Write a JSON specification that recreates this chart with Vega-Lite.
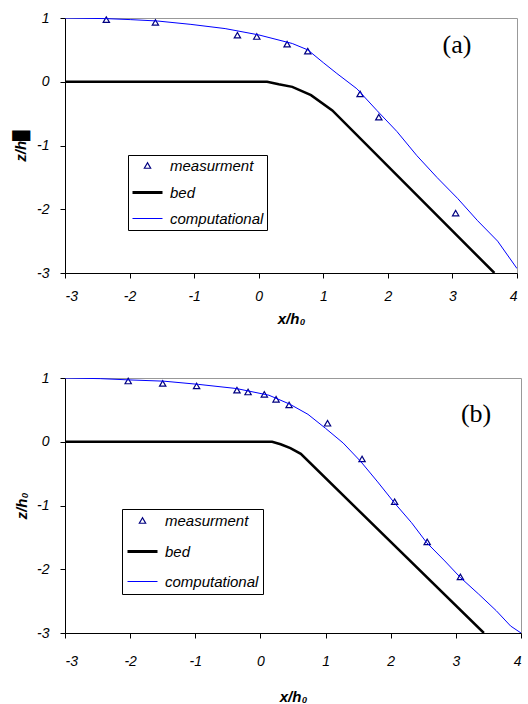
{
  "$schema": "https://vega.github.io/schema/vega-lite/v6.json",
  "background": "white",
  "padding": {"left": 12, "top": 10, "right": 0, "bottom": 0},
  "spacing": 43,
  "resolve": {"scale": {"color": "independent", "shape": "independent", "size": "independent", "strokeWidth": "independent"}, "legend": {"color": "independent", "shape": "independent", "size": "independent", "strokeWidth": "independent"}},
  "datasets": {
    "lines_a": [
      {"series": "computational", "x": -3, "y": 1},
      {"series": "computational", "x": -2.36, "y": 0.99},
      {"series": "computational", "x": -1.99, "y": 0.975},
      {"series": "computational", "x": -1.57, "y": 0.953},
      {"series": "computational", "x": -1.05, "y": 0.9},
      {"series": "computational", "x": -0.52, "y": 0.834},
      {"series": "computational", "x": 0, "y": 0.735},
      {"series": "computational", "x": 0.52, "y": 0.6},
      {"series": "computational", "x": 0.76, "y": 0.5},
      {"series": "computational", "x": 1.0, "y": 0.3},
      {"series": "computational", "x": 1.21, "y": 0.13},
      {"series": "computational", "x": 1.52, "y": -0.11},
      {"series": "computational", "x": 1.83, "y": -0.45},
      {"series": "computational", "x": 2.14, "y": -0.78},
      {"series": "computational", "x": 2.45, "y": -1.16},
      {"series": "computational", "x": 2.76, "y": -1.5},
      {"series": "computational", "x": 3.08, "y": -1.83},
      {"series": "computational", "x": 3.39, "y": -2.18},
      {"series": "computational", "x": 3.7, "y": -2.5},
      {"series": "computational", "x": 4.0, "y": -2.93},
      {"series": "bed", "x": -3, "y": 0},
      {"series": "bed", "x": 0.13, "y": 0},
      {"series": "bed", "x": 0.31, "y": -0.04},
      {"series": "bed", "x": 0.52, "y": -0.08},
      {"series": "bed", "x": 0.81, "y": -0.21},
      {"series": "bed", "x": 1.14, "y": -0.45},
      {"series": "bed", "x": 3.65, "y": -3}
    ],
    "meas_a": [
      {"series": "measurment", "x": -2.36, "y": 0.974},
      {"series": "measurment", "x": -1.6, "y": 0.93},
      {"series": "measurment", "x": -0.33, "y": 0.73},
      {"series": "measurment", "x": -0.03, "y": 0.71},
      {"series": "measurment", "x": 0.44, "y": 0.59},
      {"series": "measurment", "x": 0.76, "y": 0.48},
      {"series": "measurment", "x": 1.57, "y": -0.19},
      {"series": "measurment", "x": 1.86, "y": -0.555},
      {"series": "measurment", "x": 3.05, "y": -2.06}
    ],
    "lines_b": [
      {"series": "computational", "x": -3, "y": 1},
      {"series": "computational", "x": -2.46, "y": 0.99},
      {"series": "computational", "x": -2.01, "y": 0.97},
      {"series": "computational", "x": -1.48, "y": 0.95},
      {"series": "computational", "x": -0.95, "y": 0.9},
      {"series": "computational", "x": -0.37, "y": 0.835},
      {"series": "computational", "x": 0.13, "y": 0.73},
      {"series": "computational", "x": 0.45, "y": 0.59},
      {"series": "computational", "x": 0.73, "y": 0.43},
      {"series": "computational", "x": 1.0, "y": 0.21},
      {"series": "computational", "x": 1.27, "y": -0.02},
      {"series": "computational", "x": 1.54, "y": -0.31},
      {"series": "computational", "x": 1.8, "y": -0.63},
      {"series": "computational", "x": 2.05, "y": -0.95},
      {"series": "computational", "x": 2.32, "y": -1.27},
      {"series": "computational", "x": 2.55, "y": -1.58},
      {"series": "computational", "x": 2.83, "y": -1.87},
      {"series": "computational", "x": 3.07, "y": -2.13},
      {"series": "computational", "x": 3.35, "y": -2.39},
      {"series": "computational", "x": 3.62, "y": -2.65},
      {"series": "computational", "x": 3.84, "y": -2.89},
      {"series": "computational", "x": 4.0, "y": -3},
      {"series": "bed", "x": -3, "y": 0},
      {"series": "bed", "x": 0.18, "y": 0},
      {"series": "bed", "x": 0.31, "y": -0.04},
      {"series": "bed", "x": 0.46, "y": -0.1},
      {"series": "bed", "x": 0.62, "y": -0.19},
      {"series": "bed", "x": 3.43, "y": -3}
    ],
    "meas_b": [
      {"series": "measurment", "x": -2.03, "y": 0.953},
      {"series": "measurment", "x": -1.5, "y": 0.916},
      {"series": "measurment", "x": -0.98, "y": 0.875},
      {"series": "measurment", "x": -0.36, "y": 0.81},
      {"series": "measurment", "x": -0.19, "y": 0.78},
      {"series": "measurment", "x": 0.06, "y": 0.744},
      {"series": "measurment", "x": 0.24, "y": 0.666},
      {"series": "measurment", "x": 0.44, "y": 0.577},
      {"series": "measurment", "x": 1.03, "y": 0.29},
      {"series": "measurment", "x": 1.56, "y": -0.27},
      {"series": "measurment", "x": 2.06, "y": -0.94},
      {"series": "measurment", "x": 2.56, "y": -1.57},
      {"series": "measurment", "x": 3.07, "y": -2.12}
    ]
  },
  "vconcat": [
    {
      "resolve": {"scale": {"color": "independent", "shape": "independent", "size": "independent", "strokeWidth": "independent"}, "legend": {"color": "independent", "shape": "independent", "size": "independent", "strokeWidth": "independent"}},
      "hconcat": [
        {
          "width": 452,
          "height": 255,
          "layer": [
            {
              "data": {"name": "meas_a"},
              "mark": {"type": "point", "filled": false, "opacity": 1},
              "encoding": {
                "x": {"field": "x", "type": "quantitative", "scale": {"domain": [-3, 4], "nice": false},
                      "axis": {"values": [-3, -2, -1, 0, 1, 2, 3, 4], "title": "x/h₀", "labelPadding": 11, "titlePadding": 8, "labelExpr": "datum.value < 0 ? '-' + abs(datum.value) : '' + datum.value"}},
                "y": {"field": "y", "type": "quantitative", "scale": {"domain": [-3, 1], "nice": false},
                      "axis": {"values": [-3, -2, -1, 0, 1], "title": "z/h█", "labelPadding": 11, "titlePadding": 8.5, "labelExpr": "datum.value < 0 ? '-' + abs(datum.value) : '' + datum.value"}},
                "color": {"field": "series", "type": "nominal",
                  "scale": {"domain": ["measurment", "bed", "computational"], "range": ["#000080", "#000000", "#0000ff"]},
                  "legend": {"title": null, "orient": "none", "legendX": 63, "legendY": 137, "strokeColor": "black", "fillColor": "white", "padding": 3, "labelFont": "Liberation Sans", "labelFontStyle": "italic", "labelFontSize": 15, "labelColor": "black", "labelOffset": 6, "rowPadding": 2}},
                "shape": {"field": "series", "type": "nominal",
                  "scale": {"domain": ["measurment", "bed", "computational"], "range": ["triangle-up", "stroke", "stroke"]},
                  "legend": {"title": null, "orient": "none", "legendX": 63, "legendY": 137, "strokeColor": "black", "fillColor": "white", "padding": 3, "labelFont": "Liberation Sans", "labelFontStyle": "italic", "labelFontSize": 15, "labelColor": "black", "labelOffset": 6, "rowPadding": 2}},
                "size": {"field": "series", "type": "nominal",
                  "scale": {"type": "ordinal", "domain": ["measurment", "bed", "computational"], "range": [40, 900, 900]},
                  "legend": {"title": null, "orient": "none", "legendX": 63, "legendY": 137, "strokeColor": "black", "fillColor": "white", "padding": 3, "labelFont": "Liberation Sans", "labelFontStyle": "italic", "labelFontSize": 15, "labelColor": "black", "labelOffset": 6, "rowPadding": 2}},
                "strokeWidth": {"field": "series", "type": "nominal",
                  "scale": {"type": "ordinal", "domain": ["measurment", "bed", "computational"], "range": [1.2, 3, 1]},
                  "legend": {"title": null, "orient": "none", "legendX": 63, "legendY": 137, "strokeColor": "black", "fillColor": "white", "padding": 3, "labelFont": "Liberation Sans", "labelFontStyle": "italic", "labelFontSize": 15, "labelColor": "black", "labelOffset": 6, "rowPadding": 2}}
              }
            },
            {
              "data": {"name": "lines_a"},
              "transform": [{"filter": "datum.series === 'bed'"}],
              "mark": {"type": "line", "clip": true, "strokeWidth": 2.5},
              "encoding": {
                "x": {"field": "x", "type": "quantitative", "title": "x/h₀"},
                "y": {"field": "y", "type": "quantitative", "title": "z/h█"},
                "color": {"field": "series", "type": "nominal"}
              }
            },
            {
              "data": {"name": "lines_a"},
              "transform": [{"filter": "datum.series === 'computational'"}],
              "mark": {"type": "line", "clip": true, "strokeWidth": 1},
              "encoding": {
                "x": {"field": "x", "type": "quantitative", "title": "x/h₀"},
                "y": {"field": "y", "type": "quantitative", "title": "z/h█"},
                "color": {"field": "series", "type": "nominal"}
              }
            },
            {
              "data": {"values": [{"label": "(a)"}]},
              "mark": {"type": "text", "font": "Liberation Serif", "fontSize": 26, "fill": "black", "baseline": "middle", "align": "center"},
              "encoding": {
                "x": {"datum": 3.07, "type": "quantitative", "title": "x/h₀"},
                "y": {"datum": 0.58, "type": "quantitative", "title": "z/h█"},
                "text": {"field": "label"}
              }
            }
          ]
        }
      ]
    },
    {
      "resolve": {"scale": {"color": "independent", "shape": "independent", "size": "independent", "strokeWidth": "independent"}, "legend": {"color": "independent", "shape": "independent", "size": "independent", "strokeWidth": "independent"}},
      "hconcat": [
        {
          "width": 456,
          "height": 255,
          "layer": [
            {
              "data": {"name": "meas_b"},
              "mark": {"type": "point", "filled": false, "opacity": 1},
              "encoding": {
                "x": {"field": "x", "type": "quantitative", "scale": {"domain": [-3, 4], "nice": false},
                      "axis": {"values": [-3, -2, -1, 0, 1, 2, 3, 4], "title": "x/h₀", "labelPadding": 16, "titlePadding": 21, "labelExpr": "datum.value < 0 ? '-' + abs(datum.value) : '' + datum.value"}},
                "y": {"field": "y", "type": "quantitative", "scale": {"domain": [-3, 1], "nice": false},
                      "axis": {"values": [-3, -2, -1, 0, 1], "title": "z/h₀", "labelPadding": 11, "titlePadding": 7, "labelExpr": "datum.value < 0 ? '-' + abs(datum.value) : '' + datum.value"}},
                "color": {"field": "series", "type": "nominal",
                  "scale": {"domain": ["measurment", "bed", "computational"], "range": ["#000080", "#000000", "#0000ff"]},
                  "legend": {"title": null, "orient": "none", "legendX": 57, "legendY": 131, "strokeColor": "black", "fillColor": "white", "padding": 4, "labelFont": "Liberation Sans", "labelFontStyle": "italic", "labelFontSize": 15, "labelColor": "black", "labelOffset": 6, "rowPadding": 6}},
                "shape": {"field": "series", "type": "nominal",
                  "scale": {"domain": ["measurment", "bed", "computational"], "range": ["triangle-up", "stroke", "stroke"]},
                  "legend": {"title": null, "orient": "none", "legendX": 57, "legendY": 131, "strokeColor": "black", "fillColor": "white", "padding": 4, "labelFont": "Liberation Sans", "labelFontStyle": "italic", "labelFontSize": 15, "labelColor": "black", "labelOffset": 6, "rowPadding": 6}},
                "size": {"field": "series", "type": "nominal",
                  "scale": {"type": "ordinal", "domain": ["measurment", "bed", "computational"], "range": [40, 900, 900]},
                  "legend": {"title": null, "orient": "none", "legendX": 57, "legendY": 131, "strokeColor": "black", "fillColor": "white", "padding": 4, "labelFont": "Liberation Sans", "labelFontStyle": "italic", "labelFontSize": 15, "labelColor": "black", "labelOffset": 6, "rowPadding": 6}},
                "strokeWidth": {"field": "series", "type": "nominal",
                  "scale": {"type": "ordinal", "domain": ["measurment", "bed", "computational"], "range": [1.2, 3, 1]},
                  "legend": {"title": null, "orient": "none", "legendX": 57, "legendY": 131, "strokeColor": "black", "fillColor": "white", "padding": 4, "labelFont": "Liberation Sans", "labelFontStyle": "italic", "labelFontSize": 15, "labelColor": "black", "labelOffset": 6, "rowPadding": 6}}
              }
            },
            {
              "data": {"name": "lines_b"},
              "transform": [{"filter": "datum.series === 'bed'"}],
              "mark": {"type": "line", "clip": true, "strokeWidth": 2.5},
              "encoding": {
                "x": {"field": "x", "type": "quantitative", "title": "x/h₀"},
                "y": {"field": "y", "type": "quantitative", "title": "z/h₀"},
                "color": {"field": "series", "type": "nominal"}
              }
            },
            {
              "data": {"name": "lines_b"},
              "transform": [{"filter": "datum.series === 'computational'"}],
              "mark": {"type": "line", "clip": true, "strokeWidth": 1},
              "encoding": {
                "x": {"field": "x", "type": "quantitative", "title": "x/h₀"},
                "y": {"field": "y", "type": "quantitative", "title": "z/h₀"},
                "color": {"field": "series", "type": "nominal"}
              }
            },
            {
              "data": {"values": [{"label": "(b)"}]},
              "mark": {"type": "text", "font": "Liberation Serif", "fontSize": 26, "fill": "black", "baseline": "middle", "align": "center"},
              "encoding": {
                "x": {"datum": 3.31, "type": "quantitative", "title": "x/h₀"},
                "y": {"datum": 0.44, "type": "quantitative", "title": "z/h₀"},
                "text": {"field": "label"}
              }
            }
          ]
        }
      ]
    }
  ],
  "config": {
    "view": {"stroke": "#999999", "strokeWidth": 1},
    "axis": {
      "grid": false,
      "domainColor": "black", "domainWidth": 1,
      "tickColor": "black", "tickSize": 5,
      "labelFont": "Liberation Sans", "labelFontStyle": "italic", "labelFontSize": 14, "labelColor": "black",
      "titleFont": "Liberation Sans", "titleFontStyle": "italic", "titleFontWeight": "bold", "titleFontSize": 15, "titleColor": "black"
    }
  }
}
